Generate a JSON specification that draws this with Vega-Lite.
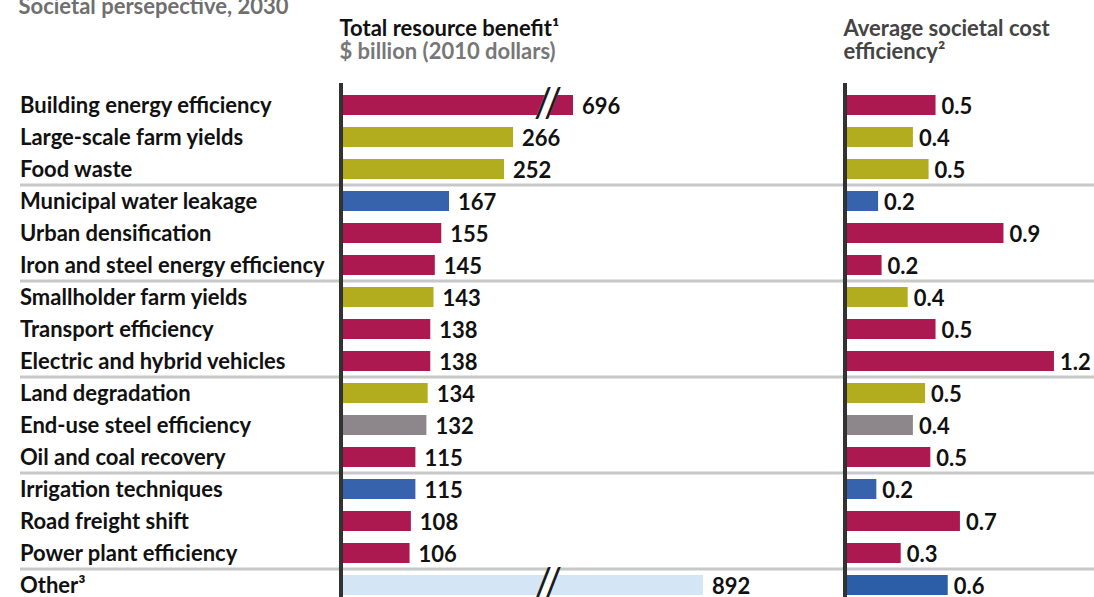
{
  "$schema": "https://vega.github.io/schema/vega-lite/v6.json",
  "background": "white",
  "padding": {"left": 18, "top": -4, "right": 0, "bottom": 0},
  "spacing": 0,
  "bounds": "flush",
  "config": {"view": {"stroke": null}, "font": "Lato"},
  "resolve": {"scale": {"color": "independent", "x": "independent"}},
  "datasets": {
    "rows": [
      {"item": "Building energy efficiency", "benefit": 696, "cost": 0.52, "sector": "energy", "sep": false, "broken": true},
      {"item": "Large-scale farm yields", "benefit": 266, "cost": 0.39, "sector": "land", "sep": false, "broken": false},
      {"item": "Food waste", "benefit": 252, "cost": 0.48, "sector": "land", "sep": false, "broken": false},
      {"item": "Municipal water leakage", "benefit": 167, "cost": 0.19, "sector": "water", "sep": true, "broken": false},
      {"item": "Urban densification", "benefit": 155, "cost": 0.91, "sector": "energy", "sep": false, "broken": false},
      {"item": "Iron and steel energy efficiency", "benefit": 145, "cost": 0.21, "sector": "energy", "sep": false, "broken": false},
      {"item": "Smallholder farm yields", "benefit": 143, "cost": 0.36, "sector": "land", "sep": true, "broken": false},
      {"item": "Transport efficiency", "benefit": 138, "cost": 0.52, "sector": "energy", "sep": false, "broken": false},
      {"item": "Electric and hybrid vehicles", "benefit": 138, "cost": 1.2, "sector": "energy", "sep": false, "broken": false},
      {"item": "Land degradation", "benefit": 134, "cost": 0.46, "sector": "land", "sep": true, "broken": false},
      {"item": "End-use steel efficiency", "benefit": 132, "cost": 0.39, "sector": "materials", "sep": false, "broken": false},
      {"item": "Oil and coal recovery", "benefit": 115, "cost": 0.49, "sector": "energy", "sep": false, "broken": false},
      {"item": "Irrigation techniques", "benefit": 115, "cost": 0.18, "sector": "water", "sep": true, "broken": false},
      {"item": "Road freight shift", "benefit": 108, "cost": 0.66, "sector": "energy", "sep": false, "broken": false},
      {"item": "Power plant efficiency", "benefit": 106, "cost": 0.32, "sector": "energy", "sep": false, "broken": false},
      {"item": "Other³", "benefit": 892, "cost": 0.59, "sector": "other", "sep": true, "broken": true}
    ]
  },
  "hconcat": [
    {
      "width": 321,
      "height": 524,
      "title": {"text": "Societal persepective, 2030", "anchor": "start", "color": "#6f6f6f", "fontSize": 22, "fontWeight": "bold", "baseline": "alphabetic", "offset": 47},
      "data": {"name": "rows"},
      "layer": [
        {
          "transform": [{"filter": "datum.sep"}],
          "mark": {"type": "rule", "color": "#c8c8c8", "strokeWidth": 3},
          "encoding": {
            "y": {"field": "item", "type": "nominal", "bandPosition": 0, "axis": null,
                  "scale": {"domain": ["Building energy efficiency","Large-scale farm yields","Food waste","Municipal water leakage","Urban densification","Iron and steel energy efficiency","Smallholder farm yields","Transport efficiency","Electric and hybrid vehicles","Land degradation","End-use steel efficiency","Oil and coal recovery","Irrigation techniques","Road freight shift","Power plant efficiency","Other³"], "paddingInner": 0, "paddingOuter": 0.1875}}
          }
        },
        {
          "mark": {"type": "text", "align": "left", "baseline": "middle", "fontSize": 22, "fontWeight": "bold", "color": "#111111", "dy": 1},
          "encoding": {
            "y": {"field": "item", "type": "nominal", "axis": null},
            "x": {"datum": 0, "type": "quantitative", "scale": {"domain": [0, 1]}, "axis": null},
            "text": {"field": "item"}
          }
        }
      ]
    },
    {
      "width": 504,
      "height": 524,
      "title": {"text": "Total resource benefit¹", "subtitle": "$ billion (2010 dollars)", "anchor": "start", "color": "#111111", "fontSize": 22, "fontWeight": "bold", "subtitleColor": "#777777", "subtitleFontSize": 22, "subtitleFontWeight": "bold", "subtitlePadding": 1, "baseline": "alphabetic", "offset": 1},
      "data": {"name": "rows"},
      "layer": [
        {
          "transform": [{"filter": "datum.sep"}],
          "mark": {"type": "rule", "color": "#c8c8c8", "strokeWidth": 3},
          "encoding": {
            "y": {"field": "item", "type": "nominal", "bandPosition": 0, "axis": null,
                  "scale": {"domain": ["Building energy efficiency","Large-scale farm yields","Food waste","Municipal water leakage","Urban densification","Iron and steel energy efficiency","Smallholder farm yields","Transport efficiency","Electric and hybrid vehicles","Land degradation","End-use steel efficiency","Oil and coal recovery","Irrigation techniques","Road freight shift","Power plant efficiency","Other³"], "paddingInner": 0, "paddingOuter": 0.1875}}
          }
        },
        {
          "mark": {"type": "bar", "height": {"band": 0.625}},
          "encoding": {
            "y": {"field": "item", "type": "nominal", "axis": null},
            "x": {"field": "benefit", "type": "quantitative", "axis": null,
                  "scale": {"domain": [0, 320, 696, 892], "range": [0, 207, 232, 362], "nice": false, "zero": false}},
            "color": {"field": "sector", "type": "nominal", "legend": null,
                      "scale": {"domain": ["energy", "land", "water", "materials", "other"], "range": ["#ac1850", "#b2ad1e", "#3663ac", "#8d878c", "#d4e6f6"]}}
          }
        },
        {
          "mark": {"type": "rule", "color": "#333333", "strokeWidth": 2.5},
          "encoding": {"x": {"datum": 0, "type": "quantitative", "axis": null}}
        },
        {
          "mark": {"type": "text", "align": "left", "baseline": "middle", "fontSize": 22, "fontWeight": "bold", "color": "#111111", "dx": 9, "dy": 2},
          "encoding": {
            "y": {"field": "item", "type": "nominal", "axis": null},
            "x": {"field": "benefit", "type": "quantitative", "axis": null},
            "text": {"field": "benefit", "type": "quantitative", "format": "d"}
          }
        },
        {
          "transform": [{"filter": "datum.broken"}],
          "mark": {"type": "text", "align": "center", "baseline": "middle", "fontSize": 40, "fontWeight": "normal", "color": "white", "stroke": "white", "strokeWidth": 9, "text": "/"},
          "encoding": {
            "y": {"field": "item", "type": "nominal", "axis": null},
            "x": {"datum": 320, "type": "quantitative", "axis": null}
          }
        },
        {
          "transform": [{"filter": "datum.broken"}],
          "mark": {"type": "text", "align": "center", "baseline": "middle", "fontSize": 40, "fontWeight": "normal", "color": "#1a1a1a", "text": "/", "dx": -5},
          "encoding": {
            "y": {"field": "item", "type": "nominal", "axis": null},
            "x": {"datum": 320, "type": "quantitative", "axis": null}
          }
        },
        {
          "transform": [{"filter": "datum.broken"}],
          "mark": {"type": "text", "align": "center", "baseline": "middle", "fontSize": 40, "fontWeight": "normal", "color": "#1a1a1a", "text": "/", "dx": 5},
          "encoding": {
            "y": {"field": "item", "type": "nominal", "axis": null},
            "x": {"datum": 320, "type": "quantitative", "axis": null}
          }
        }
      ]
    },
    {
      "width": 249,
      "height": 524,
      "title": {"text": ["Average societal cost", "efficiency²"], "anchor": "start", "color": "#444444", "fontSize": 22, "fontWeight": "bold", "lineHeight": 23, "baseline": "alphabetic", "offset": 1},
      "data": {"name": "rows"},
      "layer": [
        {
          "transform": [{"filter": "datum.sep"}],
          "mark": {"type": "rule", "color": "#c8c8c8", "strokeWidth": 3},
          "encoding": {
            "y": {"field": "item", "type": "nominal", "bandPosition": 0, "axis": null,
                  "scale": {"domain": ["Building energy efficiency","Large-scale farm yields","Food waste","Municipal water leakage","Urban densification","Iron and steel energy efficiency","Smallholder farm yields","Transport efficiency","Electric and hybrid vehicles","Land degradation","End-use steel efficiency","Oil and coal recovery","Irrigation techniques","Road freight shift","Power plant efficiency","Other³"], "paddingInner": 0, "paddingOuter": 0.1875}}
          }
        },
        {
          "mark": {"type": "bar", "height": {"band": 0.625}},
          "encoding": {
            "y": {"field": "item", "type": "nominal", "axis": null},
            "x": {"field": "cost", "type": "quantitative", "axis": null, "scale": {"domain": [0, 1.43], "nice": false}},
            "color": {"field": "sector", "type": "nominal", "legend": null,
                      "scale": {"domain": ["energy", "land", "water", "materials", "other"], "range": ["#ac1850", "#b2ad1e", "#3663ac", "#8d878c", "#2c5ea7"]}}
          }
        },
        {
          "mark": {"type": "rule", "color": "#333333", "strokeWidth": 2.5},
          "encoding": {"x": {"datum": 0, "type": "quantitative", "axis": null}}
        },
        {
          "mark": {"type": "text", "align": "left", "baseline": "middle", "fontSize": 22, "fontWeight": "bold", "color": "#111111", "dx": 6, "dy": 2},
          "encoding": {
            "y": {"field": "item", "type": "nominal", "axis": null},
            "x": {"field": "cost", "type": "quantitative", "axis": null},
            "text": {"field": "cost", "type": "quantitative", "format": ".1f"}
          }
        }
      ]
    }
  ]
}
